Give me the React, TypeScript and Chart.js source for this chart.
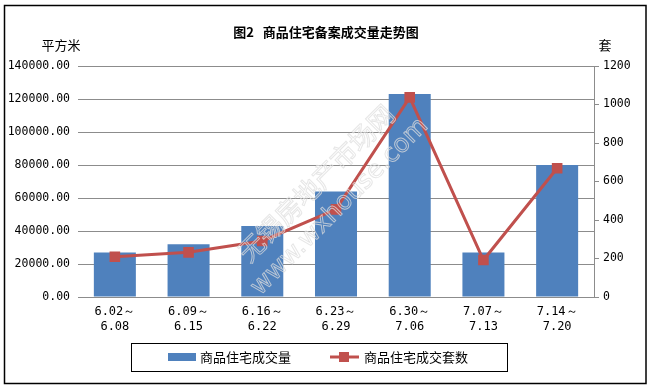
import React, { useEffect, useRef } from "react";
import { Chart, registerables } from "chart.js";

Chart.register(...registerables);

const categories: string[][] = [
  ["6.02～", "6.08"],
  ["6.09～", "6.15"],
  ["6.16～", "6.22"],
  ["6.23～", "6.29"],
  ["6.30～", "7.06"],
  ["7.07～", "7.13"],
  ["7.14～", "7.20"],
];
const areaValues: number[] = [27000, 32000, 43000, 64000, 123000, 27000, 80000];
const countValues: number[] = [209, 232, 291, 455, 1037, 192, 669];
const areaLabel = "商品住宅成交量";
const countLabel = "商品住宅成交套数";
const titleText = "图2   商品住宅备案成交量走势图";
const leftUnit = "平方米";
const rightUnit = "套";
const watermarkCn = "无锡房地产市场网";
const watermarkEn = "www.wxhouse.com";

const CJK = "'Noto Sans CJK SC', 'Noto Sans', sans-serif";
const MONO = "'DejaVu Sans Mono', 'Liberation Mono', monospace";
const BLUE = "#4F81BD";
const RED = "#C0504D";
const GRID = "#8C8C8C";
const WM = "rgba(222,222,222,0.75)";

const decorPlugin = {
  id: "decor",
  afterDatasetsDraw(chart: any) {
    const ctx = chart.ctx;
    ctx.save();
    ctx.strokeStyle = WM;
    ctx.lineWidth = 1;
    ctx.textAlign = "center";
    ctx.textBaseline = "middle";
    ctx.translate(316, 183);
    ctx.rotate(-Math.PI / 4);
    ctx.font = `26px ${CJK}`;
    ctx.strokeText(watermarkCn, 0, 0);
    ctx.restore();
    ctx.save();
    ctx.strokeStyle = WM;
    ctx.lineWidth = 1;
    ctx.textAlign = "center";
    ctx.textBaseline = "middle";
    ctx.translate(340, 207);
    ctx.rotate(-Math.PI / 4);
    ctx.font = `25px 'DejaVu Sans', sans-serif`;
    ctx.strokeText(watermarkEn, 0, 0);
    ctx.restore();
  },
  afterDraw(chart: any) {
    const ctx = chart.ctx;
    ctx.save();
    ctx.strokeStyle = "#000";
    ctx.lineWidth = 1.5;
    ctx.strokeRect(4.5, 5.5, 641.5, 378);
    ctx.fillStyle = "#000";
    ctx.textAlign = "center";
    ctx.textBaseline = "middle";
    ctx.font = `bold 13px ${CJK}`;
    ctx.fillText(titleText, 326, 32);
    ctx.font = `13px ${CJK}`;
    ctx.fillText(leftUnit, 61, 45);
    ctx.fillText(rightUnit, 605, 45);
    const ds = chart.data.datasets;
    ctx.lineWidth = 1;
    ctx.strokeStyle = "#000";
    ctx.strokeRect(131.5, 343.5, 376, 28);
    ctx.fillStyle = ds[0].backgroundColor;
    ctx.fillRect(168, 353, 28, 8);
    ctx.fillStyle = "#000";
    ctx.textAlign = "left";
    ctx.font = `13px ${CJK}`;
    ctx.fillText(ds[0].label, 200, 357.5);
    ctx.strokeStyle = ds[1].borderColor;
    ctx.lineWidth = 3;
    ctx.beginPath();
    ctx.moveTo(330, 357);
    ctx.lineTo(359, 357);
    ctx.stroke();
    ctx.fillStyle = ds[1].backgroundColor;
    ctx.fillRect(339, 352, 10, 10);
    ctx.fillStyle = "#000";
    ctx.fillText(ds[1].label, 364, 357.5);
    ctx.restore();
  },
};

export default function App() {
  const ref = useRef<HTMLCanvasElement | null>(null);
  useEffect(() => {
    if (!ref.current) return;
    const chart = new Chart(ref.current, {
      type: "bar",
      data: {
        labels: categories,
        datasets: [
          {
            type: "bar",
            label: areaLabel,
            data: areaValues,
            backgroundColor: BLUE,
            borderWidth: 0,
            categoryPercentage: 1,
            barPercentage: 0.57,
            yAxisID: "y",
            order: 1,
          },
          {
            type: "line",
            label: countLabel,
            data: countValues,
            borderColor: RED,
            backgroundColor: RED,
            borderWidth: 3,
            pointStyle: "rect",
            pointRadius: 7.5,
            pointBorderWidth: 0,
            tension: 0,
            yAxisID: "y1",
            order: 0,
          } as any,
        ],
      },
      options: {
        responsive: false,
        animation: false,
        layout: { padding: { left: 0, right: 0, top: 66, bottom: 0 } },
        plugins: {
          legend: { display: false },
          title: { display: false },
          tooltip: { enabled: false },
        },
        scales: {
          x: {
            afterFit: (s: any) => {
              s.height = 91;
            },
            grid: { display: false, drawTicks: false },
            border: { display: true, color: GRID, width: 1 },
            ticks: {
              padding: 8,
              color: "#000",
              font: { family: MONO, size: 12, lineHeight: 1.2 },
              maxRotation: 0,
              autoSkip: false,
            },
          },
          y: {
            position: "left",
            min: 0,
            max: 140000,
            afterFit: (s: any) => {
              s.width = 78;
            },
            grid: { color: GRID, lineWidth: 1, drawTicks: false },
            border: { display: false },
            ticks: {
              stepSize: 20000,
              padding: 8,
              color: "#000",
              font: { family: MONO, size: 11.5 },
              callback: (v: any) => Number(v).toFixed(2),
            },
          },
          y1: {
            position: "right",
            min: 0,
            max: 1200,
            afterFit: (s: any) => {
              s.width = 58;
            },
            grid: {
              drawOnChartArea: false,
              drawTicks: true,
              tickLength: 5,
              color: GRID,
            },
            border: { display: true, color: GRID, width: 1 },
            ticks: {
              stepSize: 200,
              padding: 4,
              color: "#000",
              font: { family: MONO, size: 11.5 },
              callback: (v: any) => String(v),
            },
          },
        },
      },
      plugins: [decorPlugin],
    });
    return () => chart.destroy();
  }, []);
  return (
    <div style={{ position: "fixed", left: 0, top: 0, width: 652, height: 388, background: "#fff" }}>
      <canvas ref={ref} width={652} height={388} style={{ width: 652, height: 388 }} />
    </div>
  );
}
